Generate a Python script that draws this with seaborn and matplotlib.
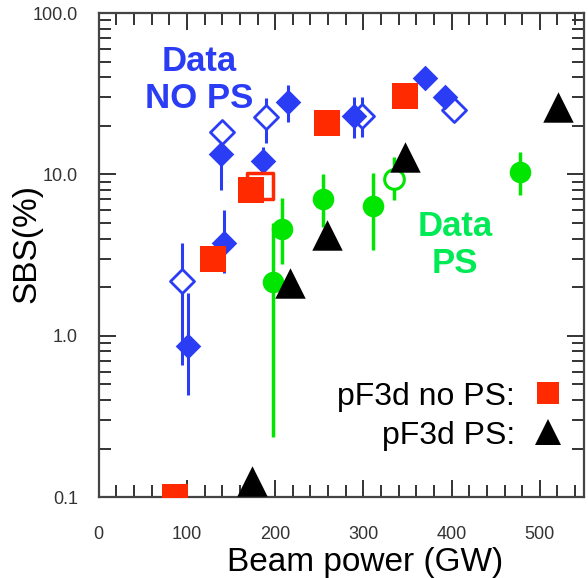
import numpy as np
import pandas as pd
import matplotlib
matplotlib.use("Agg")
import matplotlib.pyplot as plt
import seaborn as sns
from matplotlib.lines import Line2D
from matplotlib.ticker import MultipleLocator, LogLocator, FixedLocator, FixedFormatter, NullFormatter

# measured data, NO polarization smoothing (blue)
nops_x = [101, 142, 139, 186, 214, 289, 370, 393]
nops_y = [0.86, 3.75, 13.4, 12.1, 28, 23, 39.4, 30]
nops_lo = [0.43, 2.45, 8.0, 10.6, 21, 16.8, 33.8, 27]
nops_hi = [1.84, 6.0, 16.0, 14.8, 36, 30.3, 45.6, 33]

nops_open_x = [94.5, 140, 190, 298.6, 402.5]
nops_open_y = [2.18, 18.4, 22.6, 23, 25]
nops_open_lo = [0.66, 15.2, 15.6, 17, 23]
nops_open_hi = [3.75, 21.7, 29.8, 30, 28]

# measured data with PS (green)
ps_x = [198, 208, 254, 310.6, 478]
ps_y = [2.16, 4.56, 7.0, 6.4, 10.3]
ps_lo = [0.235, 2.8, 4.7, 3.4, 7.4]
ps_hi = [5.0, 7.1, 10, 10.2, 13.8]

ps_open_x = [334.5]
ps_open_y = [9.35]
ps_open_lo = [6.9]
ps_open_hi = [12.8]

# pF3d simulations
sim_nops_x = [86.7, 129.6, 173, 259, 347.7]
sim_nops_y = [0.1, 3.0, 8.0, 20.7, 30.6]
sim_nops_open_x = [182.5]
sim_nops_open_y = [8.45]
sim_ps_x = [174, 216.5, 259, 347, 521]
sim_ps_y = [0.125, 2.12, 4.2, 12.9, 26.2]

blue = "#2b3cf5"
green = "#00e600"
green_txt = "#00ea55"
red = "#ff2a00"

sns.set_style("ticks")
plt.rcParams["font.family"] = ["Liberation Sans", "DejaVu Sans"]
plt.rcParams["text.color"] = "black"
plt.rcParams["axes.labelcolor"] = "black"

fig = plt.figure(figsize=(5.88, 5.78), dpi=100)
ax = fig.add_axes([0.168, 0.140, 0.825, 0.8375])


def errs(y, lo, hi):
    y = np.array(y)
    return [y - np.array(lo), np.array(hi) - y]


# blue
ax.errorbar(nops_open_x, nops_open_y, yerr=errs(nops_open_y, nops_open_lo, nops_open_hi),
            fmt="none", ecolor=blue, elinewidth=2.2, capsize=0, zorder=2)
ax.errorbar(nops_x, nops_y, yerr=errs(nops_y, nops_lo, nops_hi),
            fmt="none", ecolor=blue, elinewidth=2.2, capsize=0, zorder=2)
sns.scatterplot(x=nops_open_x, y=nops_open_y, marker="D", s=150, facecolor="white",
                edgecolor=blue, linewidth=2, ax=ax, zorder=3)
sns.scatterplot(x=nops_x, y=nops_y, marker="D", s=170, color=blue,
                edgecolor=blue, linewidth=0, ax=ax, zorder=3)

# green
ax.errorbar(ps_x, ps_y, yerr=errs(ps_y, ps_lo, ps_hi),
            fmt="none", ecolor=green, elinewidth=2.5, capsize=0, zorder=4)
ax.errorbar(ps_open_x, ps_open_y, yerr=errs(ps_open_y, ps_open_lo, ps_open_hi),
            fmt="none", ecolor=green, elinewidth=2.5, capsize=0, zorder=4)
sns.scatterplot(x=ps_x, y=ps_y, marker="o", s=240, color=green,
                linewidth=0, ax=ax, zorder=5)
sns.scatterplot(x=ps_open_x, y=ps_open_y, marker="o", s=200, facecolor="white",
                edgecolor=green, linewidth=2.2, ax=ax, zorder=5)

# pF3d
sns.scatterplot(x=sim_nops_open_x, y=sim_nops_open_y, marker="s", s=330, facecolor="white",
                edgecolor=red, linewidth=2.5, ax=ax, zorder=6)
sns.scatterplot(x=sim_nops_x, y=sim_nops_y, marker="s", s=360, color=red,
                linewidth=0, ax=ax, zorder=7)
sns.scatterplot(x=sim_ps_x, y=sim_ps_y, marker="^", s=480, color="black",
                linewidth=0, ax=ax, zorder=8)

ax.set_yscale("log")
ax.set_xlim(0, 550)
ax.set_ylim(0.1, 100)

ax.xaxis.set_major_locator(MultipleLocator(100))
ax.xaxis.set_minor_locator(MultipleLocator(20))
ax.yaxis.set_major_locator(FixedLocator([0.1, 1, 10, 100]))
ax.yaxis.set_major_formatter(FixedFormatter(["0.1", "1.0", "10.0", "100.0"]))
ax.yaxis.set_minor_locator(LogLocator(base=10, subs=np.arange(2, 10)))
ax.yaxis.set_minor_formatter(NullFormatter())

ax.tick_params(which="both", direction="in", top=True, right=True,
               colors="#333333", width=1.4, labelsize=13, labelcolor="#333333")
ax.tick_params(which="major", length=12)
ax.tick_params(which="minor", length=8.5)
ax.tick_params(axis="x", which="major", pad=21)
ax.tick_params(axis="y", which="major", pad=15)
for sp in ax.spines.values():
    sp.set_color("#444444")
    sp.set_linewidth(1.6)

ax.set_xlabel("Beam power (GW)", fontsize=24, color="black")
ax.set_ylabel("SBS(%)", fontsize=24, color="black")
ax.xaxis.set_label_coords(0.55, -0.136)
ax.yaxis.set_label_coords(-0.148, 0.523)
ax.xaxis.label.set_va("center")
ax.yaxis.label.set_va("center")

ax.text(0.208, 0.862, "Data\nNO PS", transform=ax.transAxes, ha="center", va="center",
        fontsize=25, fontweight="bold", color=blue, linespacing=1.15)
ax.text(0.734, 0.52, "Data\nPS", transform=ax.transAxes, ha="center", va="center",
        fontsize=25, fontweight="bold", color=green_txt, linespacing=1.15)

handles = [Line2D([], [], ls="none", marker="s", ms=16, color=red, mew=0),
           Line2D([], [], ls="none", marker="^", ms=19, color="black", mew=0)]
leg = ax.legend(handles, ["pF3d no PS:", "pF3d PS:"], loc="lower right",
                bbox_to_anchor=(1.006, 0.05), frameon=False, markerfirst=False,
                fontsize=23, handlelength=1.0, handletextpad=0.55, labelspacing=0.28,
                borderpad=0.2)
for t in leg.get_texts():
    t.set_color("black")

fig.savefig("out.png", dpi=100)
